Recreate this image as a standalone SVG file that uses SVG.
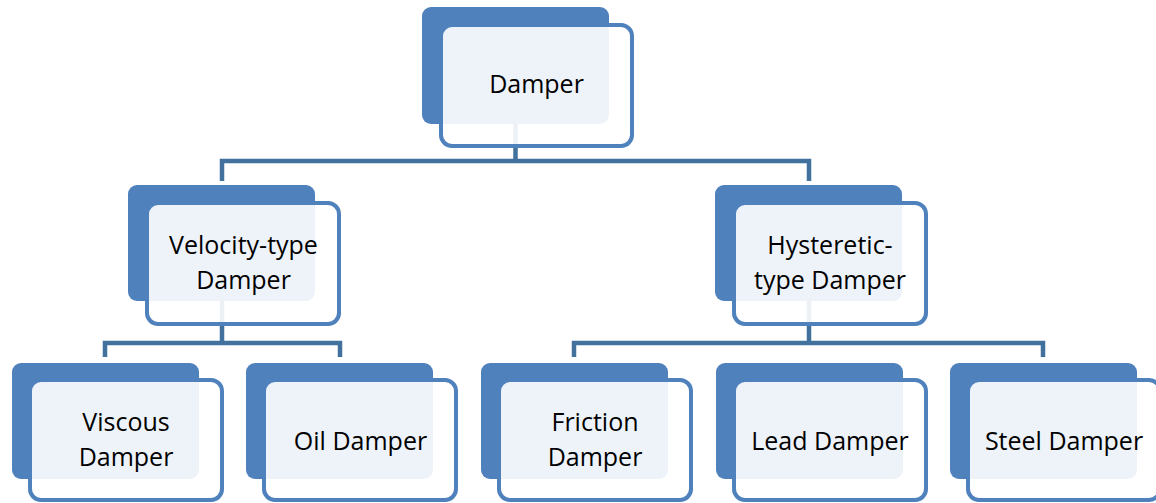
<svg xmlns="http://www.w3.org/2000/svg" width="1156" height="503" viewBox="0 0 1156 503">
<style>
.back{fill:#4F81BD;}
.front{fill:#FFFFFF;fill-opacity:0.9;stroke:#4F81BD;stroke-width:4;}
.conn{fill:none;stroke:#41719C;stroke-width:4.5;stroke-linejoin:miter;stroke-linecap:butt;}
text{font-family:"Open Sans","Noto Sans",sans-serif;font-size:25px;fill:#000;text-anchor:middle;}
</style>
<rect width="1156" height="503" fill="#FFFFFF"/>
<g id="connectors">
<path class="conn" d="M515.5,124 V161 M222,181 V161 H809 V181"/>
<path class="conn" d="M222,301 V343 M105,357 V343 H340 V357"/>
<path class="conn" d="M809,301 V343 M574,357 V343 H1043 V357"/>
</g>
<g id="node-damper">
<rect class="back" x="422" y="7" width="187" height="117" rx="9"/>
<rect class="front" x="441" y="25" width="191" height="121" rx="11"/>
<text x="536.5" y="93">Damper</text>
</g>
<g id="node-velocity">
<rect class="back" x="128" y="185" width="187" height="116" rx="9"/>
<rect class="front" x="147" y="203" width="192" height="121" rx="11"/>
<text x="243.5" y="254">Velocity-type</text>
<text x="243.5" y="288.5">Damper</text>
</g>
<g id="node-hysteretic">
<rect class="back" x="715" y="185" width="187" height="116" rx="9"/>
<rect class="front" x="734" y="203" width="192" height="121" rx="11"/>
<text x="830" y="254">Hysteretic-</text>
<text x="830" y="288.5">type Damper</text>
</g>
<g id="node-viscous">
<rect class="back" x="12" y="363" width="187" height="116" rx="9"/>
<rect class="front" x="30" y="380" width="192" height="120" rx="11"/>
<text x="126" y="431">Viscous</text>
<text x="126" y="465.5">Damper</text>
</g>
<g id="node-oil">
<rect class="back" x="246" y="363" width="187" height="116" rx="9"/>
<rect class="front" x="264" y="380" width="192" height="120" rx="11"/>
<text x="360.5" y="450">Oil Damper</text>
</g>
<g id="node-friction">
<rect class="back" x="481" y="363" width="187" height="116" rx="9"/>
<rect class="front" x="499" y="380" width="192" height="120" rx="11"/>
<text x="595" y="431">Friction</text>
<text x="595" y="465.5">Damper</text>
</g>
<g id="node-lead">
<rect class="back" x="716" y="363" width="187" height="116" rx="9"/>
<rect class="front" x="734" y="380" width="192" height="120" rx="11"/>
<text x="830" y="450">Lead Damper</text>
</g>
<g id="node-steel">
<rect class="back" x="950" y="363" width="187" height="116" rx="9"/>
<rect class="front" x="968" y="380" width="192" height="120" rx="11"/>
<text x="1064" y="450">Steel Damper</text>
</g>
</svg>
